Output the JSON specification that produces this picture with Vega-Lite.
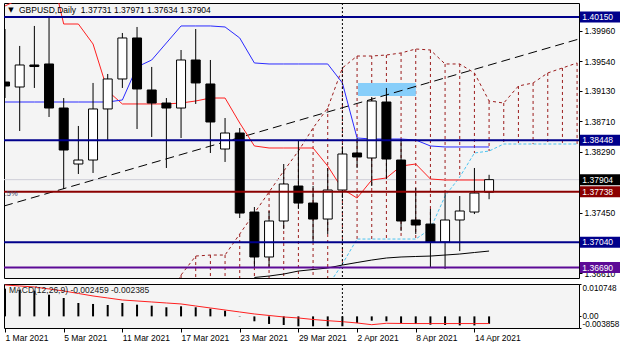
{
  "$schema": "https://vega.github.io/schema/vega-lite/v6.json",
  "padding": {"left": 2, "top": 2, "right": 0, "bottom": 0},
  "background": "white",
  "spacing": 3,
  "config": {
    "view": {"stroke": "black", "strokeWidth": 1, "fill": "#f4f4f4"},
    "scale": {"continuousPadding": 0},
    "axis": {"labelFont": "Liberation Sans", "labelFontSize": 8.5, "labelColor": "black", "tickColor": "black", "domain": false, "grid": false},
    "text": {"font": "Liberation Sans", "fontSize": 8.5}
  },
  "resolve": {"scale": {"x": "independent", "y": "independent", "color": "independent"}},
  "datasets": {
    "candles": [
      {"i":0,"d":"2021-03-01","o":1.39252,"h":1.39984,"l":1.39031,"c":1.39197},
      {"i":1,"d":"2021-03-02","o":1.39183,"h":1.39750,"l":1.38576,"c":1.39487},
      {"i":2,"d":"2021-03-03","o":1.39487,"h":1.40026,"l":1.39170,"c":1.39466},
      {"i":3,"d":"2021-03-04","o":1.39501,"h":1.40164,"l":1.38769,"c":1.38893},
      {"i":4,"d":"2021-03-05","o":1.38893,"h":1.39031,"l":1.37775,"c":1.38313},
      {"i":5,"d":"2021-03-08","o":1.38120,"h":1.38645,"l":1.37982,"c":1.38175},
      {"i":6,"d":"2021-03-09","o":1.38175,"h":1.39239,"l":1.37996,"c":1.38880},
      {"i":7,"d":"2021-03-10","o":1.38880,"h":1.39363,"l":1.38438,"c":1.39294},
      {"i":8,"d":"2021-03-11","o":1.39294,"h":1.39929,"l":1.39170,"c":1.39860},
      {"i":9,"d":"2021-03-12","o":1.39860,"h":1.40012,"l":1.38603,"c":1.39156},
      {"i":10,"d":"2021-03-15","o":1.39142,"h":1.39460,"l":1.38493,"c":1.38962},
      {"i":11,"d":"2021-03-16","o":1.38962,"h":1.39031,"l":1.38065,"c":1.38893},
      {"i":12,"d":"2021-03-17","o":1.38893,"h":1.39694,"l":1.38479,"c":1.39556},
      {"i":13,"d":"2021-03-18","o":1.39556,"h":1.39984,"l":1.38949,"c":1.39239},
      {"i":14,"d":"2021-03-19","o":1.39225,"h":1.39556,"l":1.38272,"c":1.38700},
      {"i":15,"d":"2021-03-22","o":1.38327,"h":1.38755,"l":1.38148,"c":1.38548},
      {"i":16,"d":"2021-03-23","o":1.38548,"h":1.38617,"l":1.37374,"c":1.37443},
      {"i":17,"d":"2021-03-24","o":1.37457,"h":1.37526,"l":1.36684,"c":1.36836},
      {"i":18,"d":"2021-03-25","o":1.36836,"h":1.37471,"l":1.36684,"c":1.37333},
      {"i":19,"d":"2021-03-26","o":1.37333,"h":1.38120,"l":1.37222,"c":1.37844},
      {"i":20,"d":"2021-03-29","o":1.37816,"h":1.38438,"l":1.37499,"c":1.37581},
      {"i":21,"d":"2021-03-30","o":1.37581,"h":1.37816,"l":1.37030,"c":1.37360},
      {"i":22,"d":"2021-03-31","o":1.37360,"h":1.38065,"l":1.37153,"c":1.37761},
      {"i":23,"d":"2021-04-01","o":1.37761,"h":1.38355,"l":1.37650,"c":1.38258},
      {"i":24,"d":"2021-04-02","o":1.38272,"h":1.38479,"l":1.38065,"c":1.38217},
      {"i":25,"d":"2021-04-05","o":1.38203,"h":1.39045,"l":1.37816,"c":1.38990},
      {"i":26,"d":"2021-04-06","o":1.38976,"h":1.39170,"l":1.37913,"c":1.38189},
      {"i":27,"d":"2021-04-07","o":1.38175,"h":1.38465,"l":1.37195,"c":1.37333},
      {"i":28,"d":"2021-04-08","o":1.37347,"h":1.37789,"l":1.37153,"c":1.37278},
      {"i":29,"d":"2021-04-09","o":1.37291,"h":1.37499,"l":1.36684,"c":1.37043},
      {"i":30,"d":"2021-04-12","o":1.37043,"h":1.37719,"l":1.36670,"c":1.37347},
      {"i":31,"d":"2021-04-13","o":1.37347,"h":1.37678,"l":1.36918,"c":1.37471},
      {"i":32,"d":"2021-04-14","o":1.37457,"h":1.38065,"l":1.37429,"c":1.37719},
      {"i":33,"d":"2021-04-15","o":1.37731,"h":1.37971,"l":1.37634,"c":1.37904}
    ],
    "ichimoku": [
      {"i":0,"t":1.40302,"k":1.38976},{"i":1,"t":1.40399,"k":1.38976},{"i":2,"t":1.40647,"k":1.38976},
      {"i":3,"t":1.40923,"k":1.38976},{"i":4,"t":1.40053,"k":1.38976},{"i":5,"t":1.40053,"k":1.38976},
      {"i":6,"t":1.39777,"k":1.38976},{"i":7,"t":1.39128,"k":1.38976},{"i":8,"t":1.38949,"k":1.39004},
      {"i":9,"t":1.38949,"k":1.39460},{"i":10,"t":1.38949,"k":1.39556},{"i":11,"t":1.38949,"k":1.39791},
      {"i":12,"t":1.38962,"k":1.40026},{"i":13,"t":1.38990,"k":1.40026},{"i":14,"t":1.39031,"k":1.40026},
      {"i":15,"t":1.39031,"k":1.40012},{"i":16,"t":1.38686,"k":1.39860},{"i":17,"t":1.38369,"k":1.39515},
      {"i":18,"t":1.38341,"k":1.39501},{"i":19,"t":1.38341,"k":1.39501},{"i":20,"t":1.38341,"k":1.39501},
      {"i":21,"t":1.38341,"k":1.39501},{"i":22,"t":1.38092,"k":1.39501},{"i":23,"t":1.37775,"k":1.39239},
      {"i":24,"t":1.37650,"k":1.38479},{"i":25,"t":1.37899,"k":1.38465},{"i":26,"t":1.37927,"k":1.38465},
      {"i":27,"t":1.38092,"k":1.38465},{"i":28,"t":1.38120,"k":1.38451},{"i":29,"t":1.37913,"k":1.38369},
      {"i":30,"t":1.37899,"k":1.38355},{"i":31,"t":1.37899,"k":1.38355},{"i":32,"t":1.37899,"k":1.38355},
      {"i":33,"t":1.37899,"k":1.38355}
    ],
    "cloud": [
      {"i":11,"a":1.36228,"b":1.35900},{"i":12,"a":1.36587,"b":1.35900},{"i":13,"a":1.36849,"b":1.35920},
      {"i":14,"a":1.36863,"b":1.35940},{"i":15,"a":1.36863,"b":1.35960},{"i":16,"a":1.37153,"b":1.35980},
      {"i":17,"a":1.37443,"b":1.36000},{"i":18,"a":1.37733,"b":1.36050},{"i":19,"a":1.38023,"b":1.36100},
      {"i":20,"a":1.38299,"b":1.36180},{"i":21,"a":1.38617,"b":1.36280},{"i":22,"a":1.38893,"b":1.36435},
      {"i":23,"a":1.39446,"b":1.36739},{"i":24,"a":1.39611,"b":1.37084},{"i":25,"a":1.39611,"b":1.37084},
      {"i":26,"a":1.39625,"b":1.37084},{"i":27,"a":1.39653,"b":1.37084},{"i":28,"a":1.39708,"b":1.37084},
      {"i":29,"a":1.39694,"b":1.37222},{"i":30,"a":1.39501,"b":1.37678},{"i":31,"a":1.39501,"b":1.37940},
      {"i":32,"a":1.39377,"b":1.38272},{"i":33,"a":1.38990,"b":1.38299},{"i":34,"a":1.38962,"b":1.38396},
      {"i":35,"a":1.39197,"b":1.38396},{"i":36,"a":1.39239,"b":1.38396},{"i":37,"a":1.39377,"b":1.38396},
      {"i":38,"a":1.39446,"b":1.38396},{"i":39,"a":1.39515,"b":1.38396}
    ],
    "baseline": [
      {"i":17,"v":1.36553},{"i":18,"v":1.36573},{"i":19,"v":1.36601},{"i":20,"v":1.36642},
      {"i":21,"v":1.36663},{"i":22,"v":1.36684},{"i":23,"v":1.36725},{"i":24,"v":1.36760},
      {"i":25,"v":1.36794},{"i":26,"v":1.36822},{"i":27,"v":1.36836},{"i":28,"v":1.36843},
      {"i":29,"v":1.36849},{"i":30,"v":1.36863},{"i":31,"v":1.36877},{"i":32,"v":1.36898},
      {"i":33,"v":1.36918}
    ],
    "trend": [{"i":-0.07,"p":1.37540},{"i":39.13,"p":1.39846}],
    "zones": [{"i1":24.06,"i2":28.01,"p1":1.39239,"p2":1.39059}],
    "levels": [
      {"kind":"navy","price":1.40150},
      {"kind":"navy","price":1.38448},
      {"kind":"bid","price":1.37904},
      {"kind":"darkred","price":1.37738},
      {"kind":"navy","price":1.37040},
      {"kind":"purple","price":1.36690}
    ],
    "macd": [
      {"i":0,"h":0.00920,"s":0.01042},{"i":1,"h":0.00886,"s":0.01009},{"i":2,"h":0.00853,"s":0.00976},
      {"i":3,"h":0.00720,"s":0.00910},{"i":4,"h":0.00611,"s":0.00843},{"i":5,"h":0.00445,"s":0.00760},
      {"i":6,"h":0.00412,"s":0.00677},{"i":7,"h":0.00378,"s":0.00611},{"i":8,"h":0.00445,"s":0.00544},
      {"i":9,"h":0.00388,"s":0.00511},{"i":10,"h":0.00355,"s":0.00478},{"i":11,"h":0.00302,"s":0.00445},
      {"i":12,"h":0.00335,"s":0.00412},{"i":13,"h":0.00302,"s":0.00345},{"i":14,"h":0.00256,"s":0.00279},
      {"i":15,"h":0.00189,"s":0.00212},{"i":16,"h":0.00010,"s":0.00146},{"i":17,"h":-0.00163,"s":0.00080},
      {"i":18,"h":-0.00252,"s":0.00030},{"i":19,"h":-0.00286,"s":-0.00020},{"i":20,"h":-0.00329,"s":-0.00053},
      {"i":21,"h":-0.00329,"s":-0.00103},{"i":22,"h":-0.00329,"s":-0.00143},{"i":23,"h":-0.00329,"s":-0.00176},
      {"i":24,"h":-0.00219,"s":-0.00219},{"i":25,"h":-0.00143,"s":-0.00276},{"i":26,"h":-0.00163,"s":-0.00229},
      {"i":27,"h":-0.00219,"s":-0.00235},{"i":28,"h":-0.00252,"s":-0.00238},{"i":29,"h":-0.00276,"s":-0.00238},
      {"i":30,"h":-0.00286,"s":-0.00238},{"i":31,"h":-0.00300,"s":-0.00238},{"i":32,"h":-0.00300,"s":-0.00238},
      {"i":33,"h":-0.002459,"s":-0.002385}
    ]
  },
  "vconcat": [
    {
      "width": 575,
      "height": 275,
      "layer": [
        {
          "data": {"name": "cloud"},
          "mark": {"type": "rule", "clip": true, "color": "#9b1c1c", "strokeDash": [3, 3], "strokeWidth": 1},
          "encoding": {
            "x": {"field": "i", "type": "quantitative", "scale": {"domain": [-0.07, 39.13], "nice": false, "zero": false, "padding": 0}, "axis": null},
            "y": {"field": "a", "type": "quantitative", "title": null, "scale": {"domain": [1.36546, 1.40343], "nice": false, "zero": false, "padding": 0},
                  "axis": {"orient": "right", "values": [1.3996, 1.3954, 1.3913, 1.3871, 1.3829, 1.3745, 1.3661], "tickCount": 20, "format": ".5f", "tickSize": 3, "labelPadding": 2, "labelFlush": false, "labelOverlap": false, "labelBound": false, "title": null}},
            "y2": {"field": "b"}
          }
        },
        {
          "data": {"name": "cloud"},
          "mark": {"type": "line", "clip": true, "color": "#9b1c1c", "strokeDash": [3, 3], "strokeWidth": 1},
          "encoding": {
            "x": {"field": "i", "type": "quantitative", "axis": null},
            "y": {"field": "a", "type": "quantitative", "title": null}
          }
        },
        {
          "data": {"name": "cloud"},
          "mark": {"type": "line", "clip": true, "color": "#4cc3f0", "strokeDash": [3, 2], "strokeWidth": 1},
          "encoding": {
            "x": {"field": "i", "type": "quantitative", "axis": null},
            "y": {"field": "b", "type": "quantitative", "title": null}
          }
        },
        {
          "data": {"name": "zones"},
          "mark": {"type": "rect", "color": "#87cefa", "opacity": 1},
          "encoding": {
            "x": {"field": "i1", "type": "quantitative", "axis": null},
            "x2": {"field": "i2"},
            "y": {"field": "p1", "type": "quantitative", "title": null},
            "y2": {"field": "p2"}
          }
        },
        {
          "data": {"name": "levels"},
          "transform": [{"filter": "datum.kind == 'bid'"}],
          "mark": {"type": "rule", "color": "#cfcfd8", "strokeWidth": 1},
          "encoding": {
            "y": {"field": "price", "type": "quantitative", "title": null}
          }
        },
        {
          "data": {"name": "trend"},
          "mark": {"type": "line", "clip": true, "color": "black", "strokeDash": [9, 5], "strokeWidth": 1},
          "encoding": {
            "x": {"field": "i", "type": "quantitative", "axis": null},
            "y": {"field": "p", "type": "quantitative", "title": null}
          }
        },
        {
          "data": {"name": "ichimoku"},
          "mark": {"type": "line", "clip": true, "color": "#ff2020", "strokeWidth": 1},
          "encoding": {
            "x": {"field": "i", "type": "quantitative", "axis": null},
            "y": {"field": "t", "type": "quantitative", "title": null}
          }
        },
        {
          "data": {"name": "ichimoku"},
          "mark": {"type": "line", "clip": true, "color": "#2a2aff", "strokeWidth": 1},
          "encoding": {
            "x": {"field": "i", "type": "quantitative", "axis": null},
            "y": {"field": "k", "type": "quantitative", "title": null}
          }
        },
        {
          "data": {"name": "baseline"},
          "mark": {"type": "line", "clip": true, "color": "black", "strokeWidth": 1},
          "encoding": {
            "x": {"field": "i", "type": "quantitative", "axis": null},
            "y": {"field": "v", "type": "quantitative", "title": null}
          }
        },
        {
          "data": {"name": "candles"},
          "transform": [{"filter": "datum.i == 23"}],
          "mark": {"type": "rule", "color": "black", "strokeDash": [2, 2], "strokeWidth": 1},
          "encoding": {
            "x": {"field": "i", "type": "quantitative", "axis": null}
          }
        },
        {
          "data": {"name": "candles"},
          "mark": {"type": "rule", "clip": true, "color": "black", "strokeWidth": 1},
          "encoding": {
            "x": {"field": "i", "type": "quantitative", "axis": null},
            "y": {"field": "l", "type": "quantitative", "title": null},
            "y2": {"field": "h"}
          }
        },
        {
          "data": {"name": "candles"},
          "mark": {"type": "bar", "size": 9, "stroke": "black", "strokeWidth": 1, "clip": true},
          "encoding": {
            "x": {"field": "i", "type": "quantitative", "axis": null},
            "y": {"field": "o", "type": "quantitative", "title": null},
            "y2": {"field": "c"},
            "fill": {"condition": {"test": "datum.c >= datum.o", "value": "white"}, "value": "black"}
          }
        },
        {
          "data": {"name": "levels"},
          "transform": [{"filter": "datum.kind != 'bid'"}],
          "mark": {"type": "rule", "strokeWidth": 2},
          "encoding": {
            "y": {"field": "price", "type": "quantitative", "title": null},
            "color": {"field": "kind", "type": "nominal", "legend": null,
                      "scale": {"domain": ["navy", "bid", "darkred", "purple"], "range": ["#00008b", "#000000", "#8b0000", "#5c0a96"]}}
          }
        },
        {
          "data": {"name": "levels"},
          "mark": {"type": "bar", "orient": "horizontal", "size": 11},
          "encoding": {
            "x": {"datum": 39.19, "type": "quantitative", "axis": null},
            "x2": {"datum": 41.95},
            "y": {"field": "price", "type": "quantitative", "title": null},
            "color": {"field": "kind", "type": "nominal", "legend": null}
          }
        },
        {
          "data": {"name": "levels"},
          "mark": {"type": "text", "align": "left", "baseline": "middle", "color": "white", "fontSize": 8.5},
          "encoding": {
            "x": {"datum": 39.36, "type": "quantitative", "axis": null},
            "y": {"field": "price", "type": "quantitative", "title": null},
            "text": {"field": "price", "type": "quantitative", "format": ".5f"}
          }
        },
        {
          "data": {"values": [{"t": "▼"}]},
          "mark": {"type": "text", "align": "center", "baseline": "middle", "color": "black", "fontSize": 7, "font": "DejaVu Sans"},
          "encoding": {
            "x": {"datum": 0.41, "type": "quantitative", "axis": null},
            "y": {"datum": 1.40247, "type": "quantitative", "title": null},
            "text": {"field": "t"}
          }
        },
        {
          "data": {"values": [{"t": "GBPUSD,Daily\u00a0\u00a01.37731 1.37971 1.37634 1.37904"}]},
          "mark": {"type": "text", "align": "left", "baseline": "middle", "color": "black", "fontSize": 8.5},
          "encoding": {
            "x": {"datum": 0.95, "type": "quantitative", "axis": null},
            "y": {"datum": 1.40247, "type": "quantitative", "title": null},
            "text": {"field": "t"}
          }
        },
        {
          "data": {"values": [{"t": ".5%"}]},
          "mark": {"type": "text", "align": "left", "baseline": "middle", "color": "#404060", "fontSize": 7.5},
          "encoding": {
            "x": {"datum": -0.02, "type": "quantitative", "axis": null},
            "y": {"datum": 1.37706, "type": "quantitative", "title": null},
            "text": {"field": "t"}
          }
        }
      ]
    },
    {
      "width": 575,
      "height": 44,
      "layer": [
        {
          "data": {"name": "macd"},
          "mark": {"type": "rule", "color": "black", "strokeWidth": 2, "clip": true},
          "encoding": {
            "x": {"field": "i", "type": "quantitative", "title": null,
                  "scale": {"domain": [-0.07, 39.13], "nice": false, "zero": false, "padding": 0},
                  "axis": {"orient": "bottom", "values": [0, 4, 8, 12, 16, 20, 24, 28, 32], "tickCount": 40,
                           "labelExpr": "['1 Mar 2021','5 Mar 2021','11 Mar 2021','17 Mar 2021','23 Mar 2021','29 Mar 2021','2 Apr 2021','8 Apr 2021','14 Apr 2021'][round(datum.value / 4)]",
                           "tickSize": 4, "labelAlign": "left", "labelBaseline": "top", "labelPadding": 1, "labelFlush": false, "labelOverlap": false, "labelBound": false, "title": null}},
            "y": {"field": "h", "type": "quantitative", "title": null,
                  "scale": {"domain": [-0.003858, 0.010748], "nice": false, "zero": false, "padding": 0},
                  "axis": {"orient": "right", "values": [0.010748, 0.0, -0.003858], "tickCount": 10,
                           "labelExpr": "abs(datum.value) < 0.000001 ? '0.00' : replace(format(datum.value, '.6f'), '\u2212', '-')",
                           "labelFontSize": 8.2,
                           "labelBaseline": {"condition": [{"test": "datum.value > 0.005", "value": "top"}, {"test": "datum.value < -0.001", "value": "bottom"}], "value": "middle"},
                           "tickSize": 2, "labelPadding": 1, "labelFlush": false, "labelOverlap": false, "labelBound": false, "title": null}},
            "y2": {"datum": 0}
          }
        },
        {
          "data": {"name": "macd"},
          "mark": {"type": "line", "color": "#ff2020", "strokeWidth": 1, "clip": true},
          "encoding": {
            "x": {"field": "i", "type": "quantitative", "title": null},
            "y": {"field": "s", "type": "quantitative", "title": null}
          }
        },
        {
          "data": {"name": "candles"},
          "transform": [{"filter": "datum.i == 23"}],
          "mark": {"type": "rule", "color": "black", "strokeDash": [2, 2], "strokeWidth": 1},
          "encoding": {
            "x": {"field": "i", "type": "quantitative", "title": null}
          }
        },
        {
          "data": {"values": [{"t": "MACD(12,26,9) -0.002459 -0.002385"}]},
          "mark": {"type": "text", "align": "left", "baseline": "middle", "color": "#202020", "fontSize": 8.5},
          "encoding": {
            "x": {"datum": 0.27, "type": "quantitative", "title": null},
            "y": {"datum": 0.00876, "type": "quantitative", "title": null},
            "text": {"field": "t"}
          }
        }
      ]
    }
  ]
}
